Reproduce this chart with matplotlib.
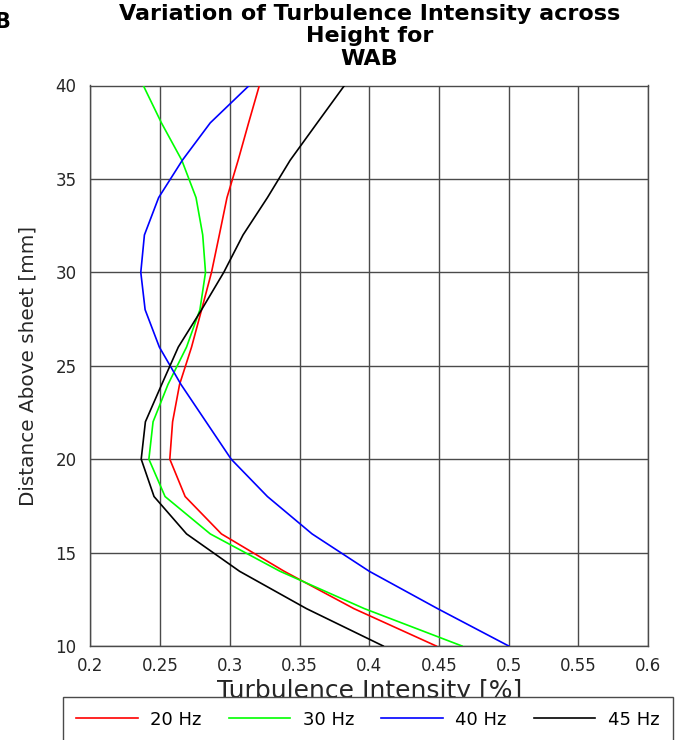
import matplotlib
matplotlib.use("Agg")
import matplotlib.pyplot as plt

# Turbulence intensity profiles above the sheet for each excitation frequency
height_mm = [10, 12, 14, 16, 18, 20, 22, 24, 26, 28, 30, 32, 34, 36, 38, 40]
ti_20hz = [0.448, 0.389, 0.339, 0.294, 0.268, 0.257, 0.259, 0.264, 0.2726, 0.2798,
           0.2869, 0.2925, 0.298, 0.306, 0.3135, 0.3212]
ti_30hz = [0.4665, 0.3965, 0.336, 0.286, 0.2536, 0.242, 0.245, 0.2557, 0.269, 0.2786,
           0.2826, 0.2806, 0.2758, 0.2656, 0.251, 0.238]
ti_40hz = [0.500, 0.449, 0.400, 0.359, 0.327, 0.301, 0.283, 0.265, 0.2495, 0.2393,
           0.2362, 0.2388, 0.249, 0.266, 0.286, 0.3139]
ti_45hz = [0.410, 0.355, 0.307, 0.269, 0.2457, 0.2365, 0.2395, 0.2512, 0.2631, 0.2798,
           0.2957, 0.3095, 0.327, 0.3433, 0.3627, 0.3822]

series_labels = ["20 Hz", "30 Hz", "40 Hz", "45 Hz"]
series_colors = ["#ff0000", "#00ff00", "#0000ff", "#000000"]
x_ticks = [0.2, 0.25, 0.3, 0.35, 0.4, 0.45, 0.5, 0.55, 0.6]
x_tick_labels = ["0.2", "0.25", "0.3", "0.35", "0.4", "0.45", "0.5", "0.55", "0.6"]
y_ticks = [10, 15, 20, 25, 30, 35, 40]

plt.rcParams["font.family"] = ["DejaVu Sans"]

W, H = 682, 740
fig = plt.figure(figsize=(W / 100, H / 100), dpi=100)
ax_left, ax_right, ax_top, ax_bottom = 90.3, 648.2, 85.5, 646.0
ax = fig.add_axes([ax_left / W, 1 - ax_bottom / H,
                   (ax_right - ax_left) / W, (ax_bottom - ax_top) / H])

grid_col = "#4a4a4a"
handles = []
for vals, lab, col in zip([ti_20hz, ti_30hz, ti_40hz, ti_45hz], series_labels, series_colors):
    ln, = ax.plot(vals, height_mm, color=col, linewidth=1.2, label=lab, zorder=3)
    handles.append(ln)

ax.set_xlim(0.2, 0.6)
ax.set_ylim(10, 40)
ax.set_xticks(x_ticks)
ax.set_xticklabels(x_tick_labels)
ax.set_yticks(y_ticks)
ax.grid(True, color=grid_col, linewidth=1.0, zorder=1)
ax.tick_params(axis="both", length=0, labelsize=12, colors="#262626")
ax.tick_params(axis="x", pad=8)
ax.tick_params(axis="y", pad=10)
for sp in ax.spines.values():
    sp.set_color(grid_col)
    sp.set_linewidth(1.0)

ax.set_xlabel("Turbulence Intensity [%]", fontsize=18, color="#262626")
ax.xaxis.set_label_coords(0.5, -0.058)
ax.xaxis.label.set_va("top")
ax.set_ylabel("Distance Above sheet [mm]", fontsize=14.4, color="#262626")
ax.yaxis.set_label_coords(-0.095, 0.5)

fig.text((ax_left + ax_right) / 2 / W, 1 - 4 / H,
         "Variation of Turbulence Intensity across\nHeight for\nWAB",
         ha="center", va="top", multialignment="center",
         fontsize=16, fontweight="bold", linespacing=1.15, color="black")
fig.text(-6 / W, 1 - 28.3 / H, "B", ha="left", va="baseline",
         fontsize=15, fontweight="bold", color="black")

leg = fig.legend(handles=handles, labels=series_labels, ncol=4,
                 loc="upper left", bbox_to_anchor=(62.7 / W, 1 - 697 / H),
                 bbox_transform=fig.transFigure, fontsize=13,
                 frameon=True, fancybox=False, framealpha=1,
                 edgecolor=grid_col, borderpad=0.75, handlelength=3.4,
                 handletextpad=0.7, columnspacing=1.5, borderaxespad=0)
leg.get_frame().set_linewidth(1.0)

fig.savefig("out.png", dpi=100)
